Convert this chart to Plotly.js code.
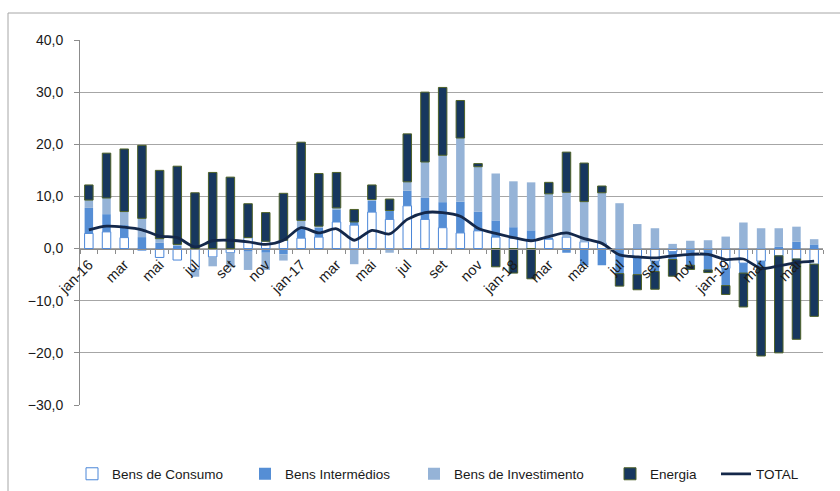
<!DOCTYPE html>
<html>
<head>
<meta charset="utf-8">
<script src="https://cdn.plot.ly/plotly-3.0.1.min.js"></script>
<style>html,body{margin:0;padding:0;background:#fff;}#chart{width:840px;height:491px;}</style>
</head>
<body>
<div id="chart"></div>
<script>
const months = ['jan-16','fev-16','mar-16','abr-16','mai-16','jun-16','jul-16','ago-16','set-16','out-16','nov-16','dez-16',
  'jan-17','fev-17','mar-17','abr-17','mai-17','jun-17','jul-17','ago-17','set-17','out-17','nov-17','dez-17',
  'jan-18','fev-18','mar-18','abr-18','mai-18','jun-18','jul-18','ago-18','set-18','out-18','nov-18','dez-18',
  'jan-19','fev-19','mar-19','abr-19','mai-19','jun-19'];
const tickLabels = ['jan-16','mar','mai','jul','set','nov','jan-17','mar','mai','jul','set','nov',
  'jan-18','mar','mai','jul','set','nov','jan-19','mar','mai'];

const bensConsumo = [2.9,3.2,2.1,-0.3,-1.7,-2.2,-4.0,-1.6,-0.8,2.1,1.4,1.6,
  2.0,2.2,5.1,4.5,7.0,5.6,8.2,5.6,4.0,3.0,3.4,2.2,
  2.0,1.6,1.8,2.2,1.3,1.1,-0.3,-1.9,-2.4,-0.6,-0.3,-0.3,
  -3.8,-2.8,-2.4,-1.4,-2.0,-3.0];
const bensIntermedios = [4.9,3.4,2.4,2.2,1.1,0.6,0.0,0.0,0.0,-0.6,-0.8,-1.1,
  2.1,1.8,2.4,0.6,2.2,1.7,2.9,4.2,4.9,6.0,3.7,3.2,
  2.1,1.9,0.3,-0.8,-3.2,-3.2,-4.5,-3.1,-2.0,-1.5,-2.9,-3.8,
  -3.3,-1.9,-1.2,0.4,1.3,0.8];
const bensInvestimento = [1.5,3.1,2.6,3.6,0.8,0.2,-1.4,-1.8,-2.8,-3.5,-3.3,-1.2,
  1.3,0.3,0.3,-3.0,0.2,-0.8,1.7,6.8,9.0,12.2,8.6,9.0,
  8.8,9.2,8.4,8.6,7.7,9.6,8.7,4.7,3.9,0.9,1.5,1.6,
  2.3,5.0,3.9,3.5,2.9,1.0];
const energia = [2.9,8.6,12.0,14.0,13.1,15.0,10.7,14.6,13.7,6.5,5.5,9.0,
  15.0,10.1,6.8,2.4,2.8,2.2,9.2,13.4,13.0,7.2,0.6,-3.5,
  -4.7,-5.8,2.2,7.7,7.4,1.3,-2.4,-2.9,-3.4,-3.2,-0.8,-0.5,
  -1.7,-6.5,-17.0,-18.6,-15.4,-10.0];
const total = [3.6,4.3,4.1,3.6,2.4,2.1,0.3,1.5,1.6,1.3,0.8,1.6,
  4.0,3.0,3.8,1.6,3.5,2.8,5.6,6.9,6.9,6.2,3.9,2.9,
  2.1,1.5,2.3,3.0,1.9,1.0,-1.2,-1.6,-1.8,-1.4,-1.1,-1.1,
  -2.1,-2.0,-3.8,-3.3,-2.7,-2.4];

const xs = months.map((m, i) => i);
const tickVals = tickLabels.map((t, k) => k * 2);

const fontFam = "'Liberation Sans', Arial, sans-serif";
const txtColor = '#1a1a1a';

const traces = [
  {type:'bar', name:'Bens de Consumo', x:xs, y:bensConsumo, legend:'legend',
   marker:{color:'#ffffff', line:{color:'#4a86d8', width:1}}},
  {type:'bar', name:'Bens Intermédios', x:xs, y:bensIntermedios, legend:'legend2',
   marker:{color:'#558ed5', line:{color:'#558ed5', width:0}}},
  {type:'bar', name:'Bens de Investimento', x:xs, y:bensInvestimento, legend:'legend3',
   marker:{color:'#95b3d7', line:{color:'#95b3d7', width:0}}},
  {type:'bar', name:'Energia', x:xs, y:energia, legend:'legend4',
   marker:{color:'#17375e', line:{color:'#4f6228', width:1}}},
  {type:'scatter', mode:'lines', name:'TOTAL', x:xs, y:total, legend:'legend5',
   line:{color:'#14284a', width:2.8, shape:'spline', smoothing:0.8}}
];

function leg(px) {
  return {orientation:'h', x:(px - 80) / 743, xanchor:'left', y:(405 - 474) / 365, yanchor:'middle',
          font:{family:fontFam, size:13.5, color:txtColor}, itemwidth:30, bgcolor:'rgba(0,0,0,0)'};
}

const layout = {
  width:840, height:491,
  margin:{l:80, r:17, t:40, b:86, autoexpand:false},
  paper_bgcolor:'#ffffff', plot_bgcolor:'#ffffff',
  separators:', ',
  barmode:'relative', bargap:0.52,
  font:{family:fontFam, size:13, color:txtColor},
  showlegend:true,
  legend:leg(72), legend2:leg(245), legend3:leg(414), legend4:leg(610), legend5:leg(716),
  xaxis:{range:[-0.5, 41.5], anchor:'free', position:30/70,
         tickmode:'array', tickvals:tickVals, ticktext:tickLabels, tickangle:-45,
         ticks:'', showline:true, linecolor:'#8c8c8c', linewidth:1,
         showgrid:false, zeroline:false, ticklabelstandoff:1,
         tickfont:{family:fontFam, size:14.5, color:txtColor},
         minor:{ticks:'outside', ticklen:4, tickcolor:'#8c8c8c', tick0:0.5, dtick:1, showgrid:false}},
  yaxis:{range:[-30, 40], tick0:0, dtick:10, tickformat:'.1f',
         showgrid:true, gridcolor:'#a6a6a6', gridwidth:1,
         showline:true, linecolor:'#8c8c8c', linewidth:1,
         ticks:'outside', ticklen:5, tickcolor:'#8c8c8c', ticklabelstandoff:8,
         zeroline:false, tickfont:{family:fontFam, size:14, color:txtColor}},
  shapes:[{type:'rect', xref:'paper', yref:'paper',
           x0:(8-80)/743, x1:(850-80)/743, y0:(405-500)/365, y1:(405-13)/365,
           line:{color:'#a6a6a6', width:1}, fillcolor:'rgba(0,0,0,0)', layer:'below'}]
};

Plotly.newPlot('chart', traces, layout, {staticPlot:true, displayModeBar:false});
</script>
</body>
</html>
